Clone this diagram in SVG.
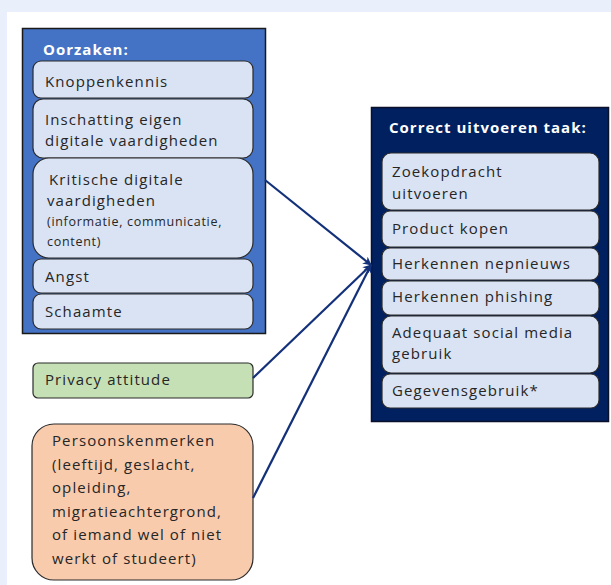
<svg xmlns="http://www.w3.org/2000/svg" width="611" height="585" viewBox="0 0 611 585">
<style>
text{font-family:"Open Sans","Noto Sans","Liberation Sans",sans-serif;font-size:15px;letter-spacing:1.1px;fill:#262626}
.title{font-weight:bold;fill:#fff;letter-spacing:1px}
.small{font-size:12.5px;letter-spacing:0.7px}
.inner{fill:#DAE3F3;stroke:#2b2b2b;stroke-width:1.2}
.conn{stroke:#13317A;stroke-width:2.2;fill:none;marker-end:url(#arr)}
</style>
<defs>
<marker id="arr" viewBox="0 0 10 10" refX="9" refY="5" markerWidth="4" markerHeight="4" orient="auto" markerUnits="strokeWidth">
<path d="M0,0 L10,5 L0,10 L3,5 z" fill="#13317A"/>
</marker>
</defs>
<rect x="0" y="0" width="611" height="585" fill="#E9F0FC"/>
<rect x="7" y="12" width="604" height="573" fill="#fff"/>

<g id="oorzaken">
<rect x="22.5" y="28.5" width="243" height="305" fill="#4472C4" stroke="#1a1a1a" stroke-width="1.5"/>
<text class="title" x="43" y="55">Oorzaken:</text>
<g id="knoppenkennis"><rect class="inner" x="33" y="61" width="220" height="37" rx="8"/><text x="45" y="87">Knoppenkennis</text></g>
<g id="inschatting"><rect class="inner" x="33" y="99" width="220" height="59" rx="10"/><text x="45" y="125">Inschatting eigen</text><text x="45" y="146">digitale vaardigheden</text></g>
<g id="kritische"><rect class="inner" x="33" y="158" width="220" height="100" rx="16"/><text x="49" y="185">Kritische digitale</text><text x="47" y="206">vaardigheden</text><text class="small" x="47" y="226">(informatie, communicatie,</text><text class="small" x="47" y="246">content)</text></g>
<g id="angst"><rect class="inner" x="33" y="259" width="220" height="34" rx="8"/><text x="45" y="282">Angst</text></g>
<g id="schaamte"><rect class="inner" x="33" y="294" width="220" height="35" rx="8"/><text x="45" y="317">Schaamte</text></g>
</g>

<g id="taak">
<rect x="371.5" y="107.5" width="237" height="314" fill="#002060" stroke="#0a0f2a" stroke-width="1.5"/>
<text class="title" x="389" y="133">Correct uitvoeren taak:</text>
<g id="zoekopdracht"><rect class="inner" x="382" y="153" width="217" height="57" rx="9"/><text x="392" y="177">Zoekopdracht</text><text x="392" y="199">uitvoeren</text></g>
<g id="product"><rect class="inner" x="382" y="211" width="217" height="36" rx="8"/><text x="392" y="234">Product kopen</text></g>
<g id="nepnieuws"><rect class="inner" x="382" y="248" width="217" height="32" rx="8"/><text x="392" y="269">Herkennen nepnieuws</text></g>
<g id="phishing"><rect class="inner" x="382" y="281" width="217" height="34" rx="8"/><text x="392" y="302">Herkennen phishing</text></g>
<g id="adequaat"><rect class="inner" x="382" y="316" width="217" height="57" rx="9"/><text x="392" y="338">Adequaat social media</text><text x="392" y="359">gebruik</text></g>
<g id="gegevens"><rect class="inner" x="382" y="374" width="217" height="34" rx="8"/><text x="392" y="396">Gegevensgebruik*</text></g>
</g>

<g id="privacy">
<rect x="33" y="363" width="220" height="35" rx="5" fill="#C5E0B4" stroke="#2b2b2b" stroke-width="1.2"/>
<text x="45" y="385">Privacy attitude</text>
</g>

<g id="persoons">
<rect x="32" y="424" width="221" height="156" rx="22" fill="#F8CBAD" stroke="#2b2b2b" stroke-width="1.2"/>
<text x="52" y="446">Persoonskenmerken</text>
<text x="52" y="470">(leeftijd, geslacht,</text>
<text x="52" y="493">opleiding,</text>
<text x="52" y="517">migratieachtergrond,</text>
<text x="52" y="540">of iemand wel of niet</text>
<text x="52" y="564">werkt of studeert)</text>
</g>

<g id="connectors">
<line class="conn" x1="265" y1="180" x2="371" y2="265"/>
<line class="conn" x1="253" y1="378" x2="371" y2="265"/>
<line class="conn" x1="253" y1="498" x2="371" y2="265"/>
</g>
</svg>
